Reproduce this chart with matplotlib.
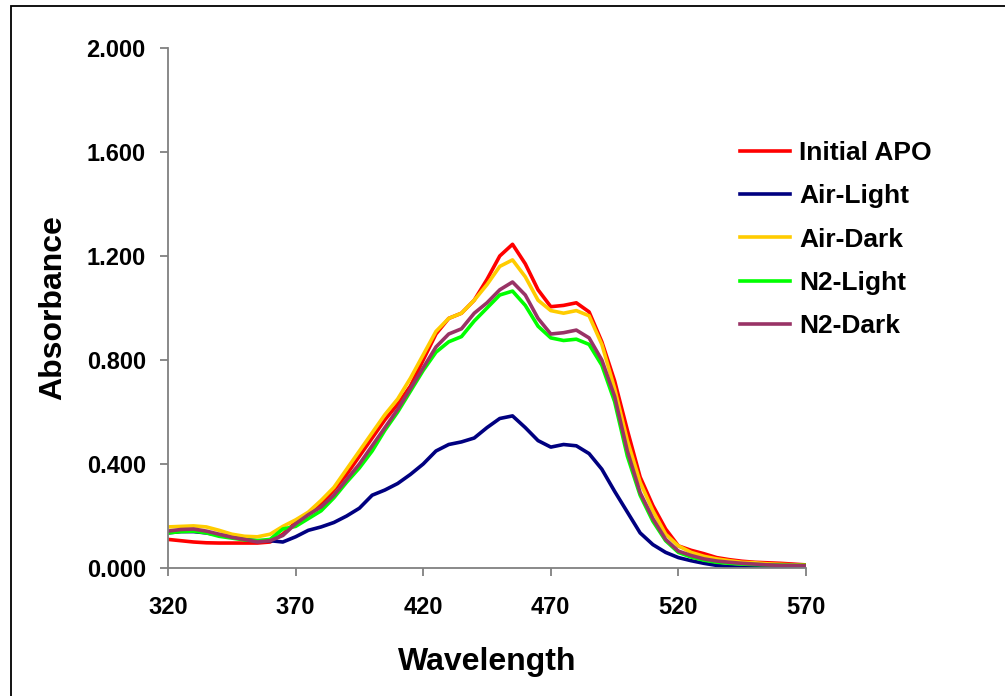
import matplotlib
matplotlib.use('Agg')
import matplotlib.pyplot as plt
import numpy as np
from matplotlib.patches import Rectangle

plt.rcParams['font.family'] = ['Liberation Sans', 'DejaVu Sans']
plt.rcParams['font.weight'] = 'bold'

# wavelength grid (nm)
wavelength = list(range(320, 571, 5))

initial_apo = [0.110, 0.105, 0.100, 0.097, 0.096, 0.096, 0.096, 0.096, 0.100, 0.130,
               0.175, 0.210, 0.245, 0.300, 0.360, 0.430, 0.500, 0.570, 0.630, 0.700,
               0.800, 0.900, 0.960, 0.980, 1.030, 1.110, 1.200, 1.245, 1.170, 1.070,
               1.005, 1.010, 1.020, 0.985, 0.870, 0.720, 0.530, 0.350, 0.240, 0.150,
               0.085, 0.068, 0.055, 0.040, 0.032, 0.026, 0.022, 0.020, 0.018, 0.015,
               0.012]

air_light = [0.135, 0.140, 0.140, 0.135, 0.127, 0.120, 0.110, 0.105, 0.105, 0.100,
             0.120, 0.145, 0.158, 0.175, 0.200, 0.230, 0.280, 0.300, 0.325, 0.360,
             0.400, 0.450, 0.475, 0.485, 0.500, 0.540, 0.575, 0.585, 0.540, 0.490,
             0.465, 0.475, 0.470, 0.440, 0.380, 0.295, 0.215, 0.135, 0.090, 0.060,
             0.040, 0.028, 0.018, 0.010, 0.005, 0.003, 0.002, 0.001, 0.001, 0.000,
             0.000]

air_dark = [0.158, 0.160, 0.162, 0.158, 0.145, 0.130, 0.122, 0.120, 0.130, 0.160,
            0.185, 0.215, 0.260, 0.310, 0.380, 0.450, 0.520, 0.590, 0.650, 0.730,
            0.820, 0.910, 0.960, 0.980, 1.030, 1.090, 1.160, 1.185, 1.120, 1.030,
            0.990, 0.980, 0.990, 0.970, 0.860, 0.690, 0.490, 0.330, 0.220, 0.130,
            0.085, 0.060, 0.045, 0.035, 0.028, 0.022, 0.020, 0.016, 0.014, 0.012,
            0.010]

n2_light = [0.135, 0.140, 0.142, 0.135, 0.122, 0.115, 0.108, 0.105, 0.110, 0.150,
            0.160, 0.190, 0.220, 0.270, 0.330, 0.385, 0.450, 0.530, 0.600, 0.680,
            0.760, 0.830, 0.870, 0.890, 0.950, 1.000, 1.050, 1.065, 1.010, 0.930,
            0.885, 0.875, 0.880, 0.860, 0.780, 0.640, 0.430, 0.280, 0.180, 0.105,
            0.060, 0.042, 0.030, 0.022, 0.018, 0.015, 0.013, 0.012, 0.011, 0.010,
            0.010]

n2_dark = [0.142, 0.148, 0.150, 0.142, 0.130, 0.118, 0.110, 0.100, 0.105, 0.125,
           0.170, 0.205, 0.235, 0.280, 0.340, 0.400, 0.470, 0.540, 0.610, 0.690,
           0.770, 0.850, 0.900, 0.920, 0.980, 1.020, 1.070, 1.100, 1.050, 0.960,
           0.900, 0.905, 0.915, 0.885, 0.800, 0.660, 0.450, 0.290, 0.190, 0.110,
           0.065, 0.048, 0.035, 0.027, 0.022, 0.018, 0.015, 0.012, 0.010, 0.010,
           0.008]

series = [('Initial APO', initial_apo, '#FF0000'),
          ('Air-Light', air_light, '#000080'),
          ('Air-Dark', air_dark, '#FFCC00'),
          ('N2-Light', n2_light, '#00FF00'),
          ('N2-Dark', n2_dark, '#993366')]

fig = plt.figure(figsize=(10.05, 6.96), dpi=100)
ax = fig.add_axes([168/1005, 1-568/696, 638/1005, 520/696])

for name, vals, col in series:
    ax.plot(wavelength, vals, color=col, lw=2.6, label=name)

ax.set_xlim(320, 570)
ax.set_ylim(0, 2.0)
ax.set_xticks(range(320, 571, 50))
ax.set_yticks(np.arange(0, 2.01, 0.4))
ax.yaxis.set_major_formatter(matplotlib.ticker.FormatStrFormatter('%.3f'))

for s in ['top', 'right']:
    ax.spines[s].set_visible(False)
for s in ['left', 'bottom']:
    ax.spines[s].set_color('#808080')
    ax.spines[s].set_linewidth(1.3)
ax.tick_params(axis='both', direction='out', length=6, width=1.3, color='#808080',
               labelsize=17)
ax.tick_params(axis='y', pad=10)
ax.tick_params(axis='x', pad=14)

ax.set_xlabel('Wavelength', fontsize=23, fontweight='bold', labelpad=20)
ax.set_ylabel('Absorbance', fontsize=23, fontweight='bold', labelpad=13)

fig.legend(loc='upper left', bbox_to_anchor=(740/1005, 1-141/696), frameon=False,
           fontsize=19, handlelength=1.9, handletextpad=0.35, labelspacing=0.73,
           borderpad=0, borderaxespad=0)

# outer chart border
fig.patches.append(Rectangle((11/1005, -0.1), 1.1, 1.1 - 6/696,
                             transform=fig.transFigure, fill=False,
                             edgecolor='black', lw=1.3))

fig.savefig('out.png', dpi=100)
